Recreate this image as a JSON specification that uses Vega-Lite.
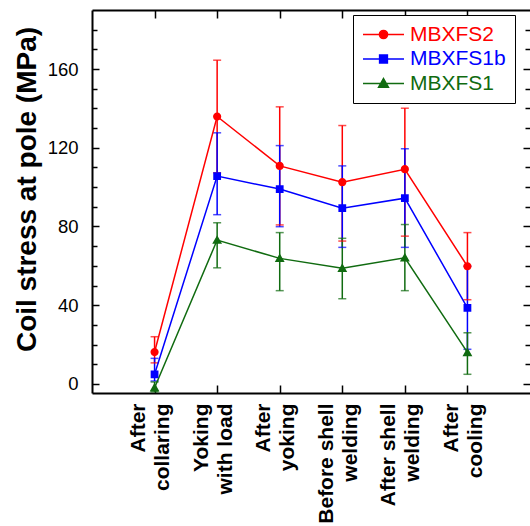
{
  "$schema": "https://vega.github.io/schema/vega-lite/v6.json",
  "width": 438,
  "height": 383,
  "autosize": {"type": "none"},
  "padding": {"left": 92, "top": 10, "right": 0, "bottom": 133},
  "config": {
    "font": "Liberation Sans",
    "view": {"stroke": null},
    "axis": {"grid": false, "tickColor": "black", "domainColor": "black", "labelColor": "black", "titleColor": "black"}
  },
  "data": {
    "values": [
      {"series": "MBXFS2", "stage": "After\ncollaring", "value": 16.2, "lower": 10.7, "upper": 24.0},
      {"series": "MBXFS2", "stage": "Yoking\nwith load", "value": 135.9, "lower": 107.3, "upper": 164.5},
      {"series": "MBXFS2", "stage": "After\nyoking", "value": 110.8, "lower": 80.8, "upper": 140.8},
      {"series": "MBXFS2", "stage": "Before shell\nwelding", "value": 102.5, "lower": 72.6, "upper": 131.3},
      {"series": "MBXFS2", "stage": "After shell\nwelding", "value": 109.1, "lower": 75.1, "upper": 140.1},
      {"series": "MBXFS2", "stage": "After\ncooling", "value": 59.8, "lower": 42.8, "upper": 76.9},
      {"series": "MBXFS1b", "stage": "After\ncollaring", "value": 4.9, "lower": 1.5, "upper": 13.0},
      {"series": "MBXFS1b", "stage": "Yoking\nwith load", "value": 105.6, "lower": 86.0, "upper": 127.6},
      {"series": "MBXFS1b", "stage": "After\nyoking", "value": 99.0, "lower": 79.9, "upper": 121.1},
      {"series": "MBXFS1b", "stage": "Before shell\nwelding", "value": 89.3, "lower": 69.4, "upper": 110.8},
      {"series": "MBXFS1b", "stage": "After shell\nwelding", "value": 94.4, "lower": 69.4, "upper": 119.5},
      {"series": "MBXFS1b", "stage": "After\ncooling", "value": 38.7, "lower": 17.6, "upper": 59.8},
      {"series": "MBXFS1", "stage": "After\ncollaring", "value": -1.9, "lower": -4.0, "upper": 1.0},
      {"series": "MBXFS1", "stage": "Yoking\nwith load", "value": 73.1, "lower": 59.0, "upper": 81.9},
      {"series": "MBXFS1", "stage": "After\nyoking", "value": 63.8, "lower": 47.4, "upper": 76.9},
      {"series": "MBXFS1", "stage": "Before shell\nwelding", "value": 58.8, "lower": 43.3, "upper": 74.0},
      {"series": "MBXFS1", "stage": "After shell\nwelding", "value": 64.1, "lower": 47.4, "upper": 81.0},
      {"series": "MBXFS1", "stage": "After\ncooling", "value": 16.0, "lower": 4.9, "upper": 26.0}
    ]
  },
  "resolve": {"axis": {"x": "independent", "y": "independent"}},
  "layer": [
    {
      "mark": {"type": "rule", "strokeWidth": 1.5},
      "encoding": {
        "x": {"field": "stage", "type": "nominal",
          "scale": {"type": "point", "padding": 1, "domain": ["After\ncollaring", "Yoking\nwith load", "After\nyoking", "Before shell\nwelding", "After shell\nwelding", "After\ncooling"]},
          "axis": {"orient": "bottom", "title": null, "tickSize": -8, "tickWidth": 1.5, "domainWidth": 2, "labelAngle": -90, "labelAlign": "right", "labelBaseline": "middle", "labelFontSize": 21, "labelFontWeight": "bold", "labelLineHeight": 24, "labelPadding": 18, "labelOffset": -16, "labelExpr": "split(datum.label, '\\n')"}},
        "y": {"field": "lower", "type": "quantitative",
          "scale": {"domain": [-4.6, 190], "nice": false, "zero": false},
          "axis": {"orient": "left", "values": [0, 40, 80, 120, 160], "tickSize": -7, "tickWidth": 1.5, "domainWidth": 2, "labelFontSize": 18.5, "labelPadding": 21, "title": "Coil stress at pole (MPa)", "titleFontSize": 28, "titleFontWeight": "bold", "titlePadding": 6, "titleY": 179}},
        "y2": {"field": "upper"},
        "stroke": {"field": "series", "type": "nominal", "scale": {"domain": ["MBXFS2", "MBXFS1b", "MBXFS1"], "range": ["#ff0000", "#0000ff", "#106b10"]}}
      }
    },
    {
      "mark": {"type": "tick", "orient": "horizontal", "size": 8, "thickness": 1.5},
      "encoding": {
        "x": {"field": "stage", "type": "nominal", "axis": {"orient": "top", "title": null, "labels": false, "tickSize": -8, "tickWidth": 1.5, "domainWidth": 2}},
        "y": {"field": "lower", "type": "quantitative",
          "axis": {"orient": "left", "values": [10, 20, 30, 50, 60, 70, 90, 100, 110, 130, 140, 150, 170, 180], "tickSize": -5, "tickWidth": 1.5, "domain": false, "labels": false, "title": null}},
        "fill": {"field": "series", "type": "nominal", "scale": {"domain": ["MBXFS2", "MBXFS1b", "MBXFS1"], "range": ["#ff0000", "#0000ff", "#106b10"]}}
      }
    },
    {
      "mark": {"type": "tick", "orient": "horizontal", "size": 8, "thickness": 1.5},
      "encoding": {
        "x": {"field": "stage", "type": "nominal", "axis": null},
        "y": {"field": "upper", "type": "quantitative",
          "axis": {"orient": "right", "values": [0, 40, 80, 120, 160], "tickSize": -7, "tickWidth": 1.5, "domain": false, "labels": false, "title": null}},
        "fill": {"field": "series", "type": "nominal"}
      }
    },
    {
      "mark": {"type": "line", "strokeWidth": 1.5},
      "encoding": {
        "x": {"field": "stage", "type": "nominal", "axis": null},
        "y": {"field": "value", "type": "quantitative",
          "axis": {"orient": "right", "values": [10, 20, 30, 50, 60, 70, 90, 100, 110, 130, 140, 150, 170, 180], "tickSize": -5, "tickWidth": 1.5, "domain": false, "labels": false, "title": null}},
        "stroke": {"field": "series", "type": "nominal"}
      }
    },
    {
      "mark": {"type": "point", "filled": true, "size": 1681, "strokeWidth": 0, "opacity": 1},
      "encoding": {
        "x": {"field": "stage", "type": "nominal", "axis": null},
        "y": {"field": "value", "type": "quantitative", "axis": null},
        "color": {"field": "series", "type": "nominal", "scale": {"domain": ["MBXFS2", "MBXFS1b", "MBXFS1"], "range": ["#ff0000", "#0000ff", "#106b10"]},
          "legend": {
            "title": null, "orient": "none", "legendX": 261, "legendY": 5,
            "strokeColor": "black", "fillColor": "white", "padding": 9, "cornerRadius": 0,
            "labelFontSize": 21, "labelFont": "Liberation Sans", "labelOffset": 5, "rowPadding": 2.5, "clipHeight": 21,
            "symbolSize": 1681, "symbolStrokeWidth": 1.5,
            "encoding": {
              "labels": {"fill": {"value": {"expr": "scale('color', datum.value)"}}},
              "symbols": {"fill": {"value": {"expr": "scale('color', datum.value)"}}, "stroke": {"value": {"expr": "scale('color', datum.value)"}}, "strokeWidth": {"value": 1.5}, "opacity": {"value": 1}}
            }
          }},
        "shape": {"field": "series", "type": "nominal",
          "scale": {"domain": ["MBXFS2", "MBXFS1b", "MBXFS1"],
            "range": [
              "M-1,0H1M0.2,0A0.2,0.2,0,1,1,-0.2,0A0.2,0.2,0,1,1,0.2,0Z",
              "M-1,0H1M-0.19,-0.19H0.19V0.19H-0.19Z",
              "M-1,0H1M0,-0.24L0.24,0.18L-0.24,0.18Z"
            ]}}
      }
    }
  ]
}
